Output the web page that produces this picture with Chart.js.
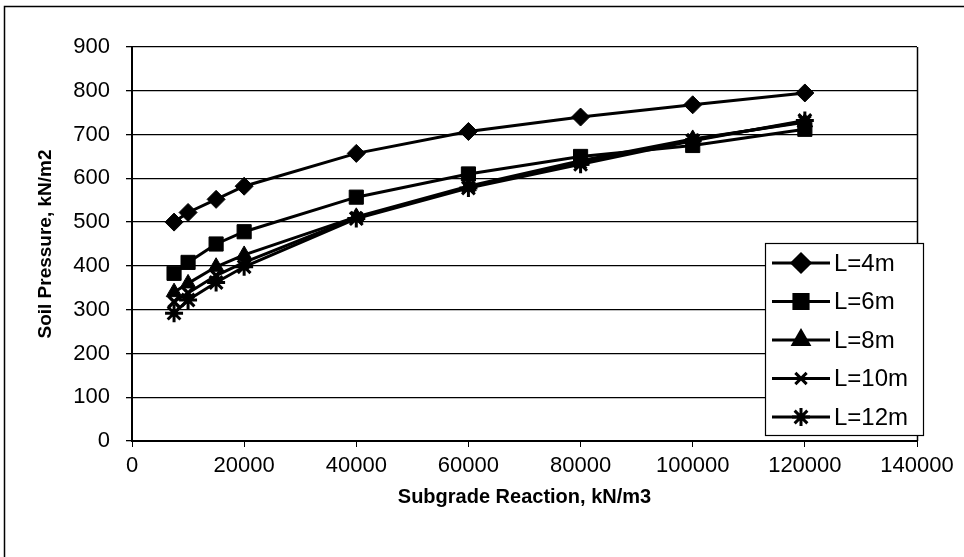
<!DOCTYPE html>
<html>
<head>
<meta charset="utf-8">
<script src="https://cdn.jsdelivr.net/npm/chart.js@4.4.1/dist/chart.umd.min.js"></script>
<style>
  body { margin: 0; background: #fff; }
  canvas { display: block; }
</style>
</head>
<body>
<canvas id="soilChart" width="964" height="557"></canvas>
<script>
// subgrade reaction (kN/m3) and soil pressure (kN/m2) for each length
const reaction = [7500, 10000, 15000, 20000, 40000, 60000, 80000, 100000, 120000];
const pressureL4 = [500, 522, 552, 582, 657, 707, 740, 768, 795];
const pressureL6 = [383, 408, 450, 478, 557, 610, 650, 675, 712];
const pressureL8 = [340, 360, 398, 425, 512, 582, 640, 690, 728];
const pressureL10 = [318, 338, 378, 408, 510, 580, 635, 688, 730];
const pressureL12 = [292, 322, 362, 398, 508, 578, 632, 686, 732];
const lengths = ['L=4m', 'L=6m', 'L=8m', 'L=10m', 'L=12m'];

const fontFamily = '"Liberation Sans", Arial, sans-serif';

const markers = [
    { style: 'rectRot', radius: 9, width: 1 },
    { style: 'rect', radius: 10, width: 1 },
    { style: 'triangle', radius: 9, width: 1 },
    { style: 'crossRot', radius: 8, width: 3.5 },
    { style: 'star', radius: 9, width: 3 }
];
const allPressures = [pressureL4, pressureL6, pressureL8, pressureL10, pressureL12];

const datasets = lengths.map((label, i) => ({
    label: label,
    data: reaction.map((x, j) => ({ x: x, y: allPressures[i][j] })),
    showLine: true,
    borderColor: '#000',
    backgroundColor: '#000',
    borderWidth: 3,
    pointStyle: markers[i].style,
    pointRadius: markers[i].radius,
    pointBorderWidth: markers[i].width,
    pointBackgroundColor: '#000',
    pointBorderColor: '#000',
    tension: 0
}));

// outer frame, plot area right edge and the boxed legend
const framePlugin = {
    id: 'frame',
    afterDraw(chart) {
        const ctx = chart.ctx;
        const area = chart.chartArea;
        ctx.save();
        ctx.strokeStyle = '#000';
        ctx.lineWidth = 1.5;
        ctx.beginPath();
        ctx.moveTo(4.5, 560);
        ctx.lineTo(4.5, 6.5);
        ctx.lineTo(964, 6.5);
        ctx.stroke();

        ctx.beginPath();
        ctx.moveTo(area.right + 0.5, area.top);
        ctx.lineTo(area.right + 0.5, area.bottom);
        ctx.stroke();

        // legend
        const box = { x: 765.5, y: 243.5, w: 158, h: 192 };
        ctx.fillStyle = '#fff';
        ctx.fillRect(box.x, box.y, box.w, box.h);
        ctx.lineWidth = 1.2;
        ctx.strokeRect(box.x, box.y, box.w, box.h);

        ctx.font = '24px ' + fontFamily;
        ctx.textBaseline = 'middle';
        ctx.textAlign = 'left';
        lengths.forEach((label, i) => {
            const y = 263 + i * 38.5;
            ctx.strokeStyle = '#000';
            ctx.lineWidth = 3;
            ctx.beginPath();
            ctx.moveTo(772, y);
            ctx.lineTo(830, y);
            ctx.stroke();
            ctx.fillStyle = '#000';
            Chart.helpers.drawPoint(ctx, {
                pointStyle: markers[i].style,
                radius: markers[i].radius,
                borderWidth: markers[i].width,
                rotation: 0
            }, 801, y);
            ctx.fillStyle = '#000';
            ctx.fillText(label, 834, y + 1);
        });
        ctx.restore();
    }
};

new Chart(document.getElementById('soilChart'), {
    type: 'scatter',
    data: { datasets: datasets },
    plugins: [framePlugin],
    options: {
        responsive: false,
        animation: false,
        devicePixelRatio: 1,
        layout: { padding: { left: 0, top: 47, right: 47, bottom: 0 } },
        plugins: {
            legend: { display: false },
            tooltip: { enabled: false }
        },
        scales: {
            x: {
                type: 'linear',
                min: 0,
                max: 140000,
                afterFit(scale) { scale.height = 116; },
                border: { color: '#000', width: 2 },
                grid: { drawOnChartArea: false, drawTicks: true, tickLength: 6, color: '#000' },
                ticks: {
                    stepSize: 20000,
                    padding: 6,
                    color: '#000',
                    font: { family: fontFamily, size: 22 },
                    maxRotation: 0,
                    callback: v => String(v)
                },
                title: {
                    display: true,
                    text: 'Subgrade Reaction, kN/m3',
                    color: '#000',
                    font: { family: fontFamily, size: 20, weight: 'bold' },
                    padding: { top: 0, bottom: 48 }
                }
            },
            y: {
                min: 0,
                max: 900,
                afterFit(scale) { scale.width = 132; },
                border: { color: '#000', width: 2 },
                grid: { color: '#000', lineWidth: 1.3, tickLength: 6 },
                ticks: {
                    stepSize: 100,
                    padding: 16,
                    color: '#000',
                    font: { family: fontFamily, size: 22 }
                },
                title: {
                    display: true,
                    text: 'Soil Pressure, kN/m2',
                    color: '#000',
                    font: { family: fontFamily, size: 19, weight: 'bold' },
                    padding: { top: 34, bottom: 0 }
                }
            }
        }
    }
});
</script>
</body>
</html>
